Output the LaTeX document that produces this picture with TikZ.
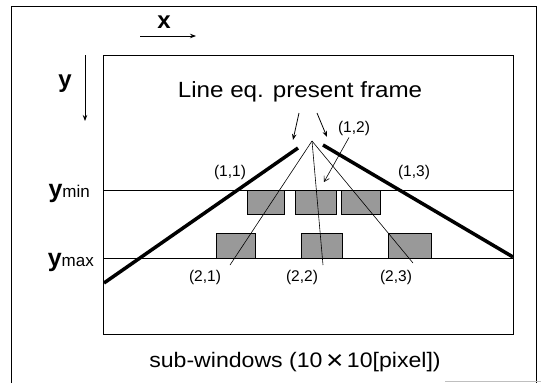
\documentclass[tikz,border=0pt]{standalone}
\usepackage{fontspec}
\setmainfont{Liberation Sans}
\newfontfamily\widefont[FakeStretch=1.1]{Liberation Sans}
\usetikzlibrary{arrows.meta}
\begin{document}
\begin{tikzpicture}[x=1pt,y=-1pt,
  frame/.style={line width=0.9pt},
  thickline/.style={line width=3.5pt},
  thinline/.style={line width=0.6pt},
  win/.style={draw,line width=0.9pt,fill=black!40},
  arr/.style={line width=0.8pt,-{Stealth[length=6pt,width=4.5pt]}},
  lbl/.style={inner sep=0pt,font=\fontsize{15.5}{17}\selectfont},
  axis/.style={inner sep=0pt,font=\fontsize{24}{26}\selectfont\bfseries}]
\useasboundingbox (0,0) rectangle (541,383);
% outer frame
\draw[frame] (11,383) -- (11,6) -- (536,6) -- (536,383);
\draw[line width=0.5pt,black!25] (445,381) -- (541,381);
% inner frame
\draw[frame] (103,55) rectangle (513,334);
\draw[frame] (103,190) -- (513,190);
\draw[frame] (103,258) -- (513,258);
% axes
\node[axis] (xl) at (164,22) {x};
\coordinate (xa) at (140,36);
\coordinate (xb) at (196,36);
\draw[arr] (xa) -- (xb);
\node[axis] (yl) at (65,84) {y};
\coordinate (ya) at (85,55);
\coordinate (yb) at (85,121);
\draw[arr] (ya) -- (yb);
% ymin ymax labels
\node[anchor=base east,inner sep=0pt] (ymin) at (90,197) {\fontsize{25}{26}\selectfont\bfseries y\fontsize{17}{19}\mdseries\selectfont min};
\node[anchor=base east,inner sep=0pt] (ymax) at (94,266) {\fontsize{25}{26}\selectfont\bfseries y\fontsize{17}{19}\mdseries\selectfont max};
% title
\node[inner sep=0pt,font=\widefont\fontsize{22}{24}\selectfont] (title) at (300,92) {Line eq. present frame};
% windows
\node[win,minimum width=37pt,minimum height=24pt,inner sep=0pt] (w11) at (266,202) {};
\node[win,minimum width=41pt,minimum height=24pt,inner sep=0pt] (w12) at (315.5,202) {};
\node[win,minimum width=39pt,minimum height=24pt,inner sep=0pt] (w13) at (360.5,202) {};
\node[win,minimum width=39pt,minimum height=25pt,inner sep=0pt] (w21) at (235.5,245.5) {};
\node[win,minimum width=41pt,minimum height=25pt,inner sep=0pt] (w22) at (321.5,245.5) {};
\node[win,minimum width=43pt,minimum height=25pt,inner sep=0pt] (w23) at (409.5,245.5) {};
% lines
\coordinate (apex) at (312,141);
\coordinate (l1a) at (104,283);
\coordinate (l1b) at (298,148);
\coordinate (l3a) at (323,145);
\coordinate (l3b) at (513,257);
\draw[thickline] (l1a) -- (l1b);
\draw[thickline] (l3a) -- (l3b);
\coordinate (e21) at (230,265);
\coordinate (e22) at (323,265);
\coordinate (e23) at (413,263);
\draw[thinline] (apex) -- (e21);
\draw[thinline] (apex) -- (e22);
\draw[thinline] (apex) -- (e23);
% labels
\node[lbl] (c11) at (230,172) {(1,1)};
\node[lbl] (c12) at (354,128) {(1,2)};
\node[lbl] (c13) at (414,172) {(1,3)};
\node[lbl] (c21) at (205,277) {(2,1)};
\node[lbl] (c22) at (302,277) {(2,2)};
\node[lbl] (c23) at (396,277) {(2,3)};
% arrows
\coordinate (a1s) at (299,113);
\coordinate (a1e) at (293,140);
\coordinate (a2s) at (317,113);
\coordinate (a2e) at (327,137);
\draw[arr] (a1s) -- (a1e);
\draw[arr] (a2s) -- (a2e);
\draw[thinline,-{Straight Barb[length=5pt,width=6pt]}] (c12.south) ++(-5,2) -- (324,182);
% caption
\node[inner sep=0pt,font=\widefont\fontsize{21}{24}\selectfont] (cap) at (295,362) {sub-windows (10\,\raisebox{-2.5pt}{\fontsize{27}{27}\selectfont ×}\,10[pixel])};
\end{tikzpicture}
\end{document}
